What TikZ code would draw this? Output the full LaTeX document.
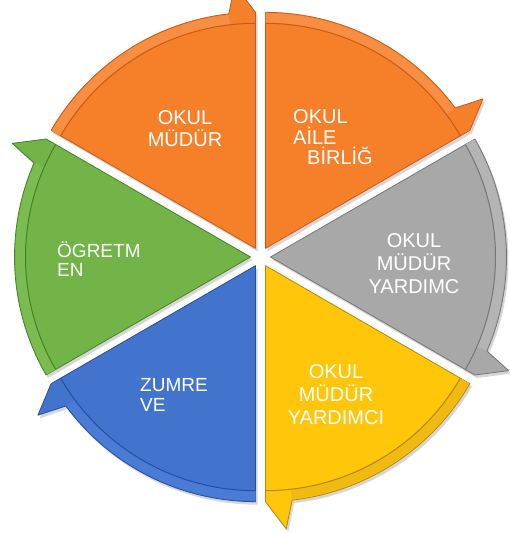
\documentclass[tikz,border=0pt]{standalone}
\usepackage{fontspec}
\setmainfont{Liberation Sans}
\usetikzlibrary{positioning}
\definecolor{orangeseg}{RGB}{246,128,42}
\definecolor{orangerim}{RGB}{248,142,66}
\definecolor{orangeedge}{RGB}{196,92,22}
\definecolor{greyseg}{RGB}{168,168,168}
\definecolor{greyrim}{RGB}{180,180,180}
\definecolor{greyedge}{RGB}{118,118,118}
\definecolor{yellowseg}{RGB}{255,198,10}
\definecolor{yellowrim}{RGB}{240,186,18}
\definecolor{yellowedge}{RGB}{180,135,10}
\definecolor{blueseg}{RGB}{66,116,206}
\definecolor{bluerim}{RGB}{74,124,214}
\definecolor{blueedge}{RGB}{38,78,158}
\definecolor{greenseg}{RGB}{114,180,72}
\definecolor{greenrim}{RGB}{122,188,80}
\definecolor{greenedge}{RGB}{70,128,40}
\begin{document}
\begin{tikzpicture}[x=1pt,y=1pt,
  seg/.style={line width=0.8pt, line join=round},
  rimline/.style={line width=1pt},
  shadowseg/.style={fill=black, opacity=0.16},
  lbl/.style={text=white, inner sep=0pt, font=\fontsize{20}{22}\selectfont},
  lblsmall/.style={text=white, inner sep=0pt, font=\fontsize{19}{19.5}\selectfont}]
\useasboundingbox (-260.5,-277) rectangle (248.5,257);

% okul mudur, top left
\begin{scope}[shift={(120:10)}]
\fill[shadowseg, shift={(2,-3)}] (0,0) -- (90:236) -- (94.5:264) -- (96.5:236) arc[start angle=96.5,end angle=150,radius=236] -- cycle;
\filldraw[seg, fill=orangeseg, draw=orangeedge] (0,0) -- (90:236) -- (94.5:264) -- (96.5:236) arc[start angle=96.5,end angle=150,radius=236] -- cycle;
\fill[orangerim] (96.5:225) arc[start angle=96.5,end angle=150,radius=225] -- (150:235) arc[start angle=150,end angle=96.5,radius=235] -- cycle;
\draw[rimline, orangeedge] (90:225) arc[start angle=90,end angle=150,radius=225];
\end{scope}

% okul aile birligi, top right
\begin{scope}[shift={(60:10)}]
\fill[shadowseg, shift={(2,-3)}] (0,0) -- (30:236) -- (34.5:264) -- (36.5:236) arc[start angle=36.5,end angle=90,radius=236] -- cycle;
\filldraw[seg, fill=orangeseg, draw=orangeedge] (0,0) -- (30:236) -- (34.5:264) -- (36.5:236) arc[start angle=36.5,end angle=90,radius=236] -- cycle;
\fill[orangerim] (36.5:225) arc[start angle=36.5,end angle=90,radius=225] -- (90:235) arc[start angle=90,end angle=36.5,radius=235] -- cycle;
\draw[rimline, orangeedge] (30:225) arc[start angle=30,end angle=90,radius=225];
\end{scope}

% mudur yardimcisi, right
\begin{scope}[shift={(0:10)}]
\fill[shadowseg, shift={(2,-3)}] (0,0) -- (-30:236) -- (-25.5:264) -- (-23.5:236) arc[start angle=-23.5,end angle=30,radius=236] -- cycle;
\filldraw[seg, fill=greyseg, draw=greyedge] (0,0) -- (-30:236) -- (-25.5:264) -- (-23.5:236) arc[start angle=-23.5,end angle=30,radius=236] -- cycle;
\fill[greyrim] (-23.5:225) arc[start angle=-23.5,end angle=30,radius=225] -- (30:235) arc[start angle=30,end angle=-23.5,radius=235] -- cycle;
\draw[rimline, greyedge] (-30:225) arc[start angle=-30,end angle=30,radius=225];
\end{scope}

% mudur yardimcisi, bottom right
\begin{scope}[shift={(-60:10)}]
\fill[shadowseg, shift={(2,-3)}] (0,0) -- (-90:236) -- (-85.5:264) -- (-83.5:236) arc[start angle=-83.5,end angle=-30,radius=236] -- cycle;
\filldraw[seg, fill=yellowseg, draw=yellowedge] (0,0) -- (-90:236) -- (-85.5:264) -- (-83.5:236) arc[start angle=-83.5,end angle=-30,radius=236] -- cycle;
\fill[yellowrim] (-83.5:225) arc[start angle=-83.5,end angle=-30,radius=225] -- (-30:235) arc[start angle=-30,end angle=-83.5,radius=235] -- cycle;
\draw[rimline, yellowedge] (-90:225) arc[start angle=-90,end angle=-30,radius=225];
\end{scope}

% zumre, bottom left
\begin{scope}[shift={(-120:10)}]
\fill[shadowseg, shift={(2,-3)}] (0,0) -- (-150:236) -- (-145.5:264) -- (-143.5:236) arc[start angle=-143.5,end angle=-90,radius=236] -- cycle;
\filldraw[seg, fill=blueseg, draw=blueedge] (0,0) -- (-150:236) -- (-145.5:264) -- (-143.5:236) arc[start angle=-143.5,end angle=-90,radius=236] -- cycle;
\fill[bluerim] (-143.5:225) arc[start angle=-143.5,end angle=-90,radius=225] -- (-90:235) arc[start angle=-90,end angle=-143.5,radius=235] -- cycle;
\draw[rimline, blueedge] (-150:225) arc[start angle=-150,end angle=-90,radius=225];
\end{scope}

% ogretmenler, left
\begin{scope}[shift={(180:10)}]
\fill[shadowseg, shift={(2,-3)}] (0,0) -- (150:236) -- (154.5:264) -- (156.5:236) arc[start angle=156.5,end angle=210,radius=236] -- cycle;
\filldraw[seg, fill=greenseg, draw=greenedge] (0,0) -- (150:236) -- (154.5:264) -- (156.5:236) arc[start angle=156.5,end angle=210,radius=236] -- cycle;
\fill[greenrim] (156.5:225) arc[start angle=156.5,end angle=210,radius=225] -- (210:235) arc[start angle=210,end angle=156.5,radius=235] -- cycle;
\draw[rimline, greenedge] (150:225) arc[start angle=150,end angle=210,radius=225];
\end{scope}

% labels
\node[lbl, align=center] (mudur) at (-75.5,128) {OKUL\\MÜDÜR};
\node[lbl, align=left, anchor=west, font=\fontsize{20}{20.5}\selectfont] (aile) at (32.5,119.5) {OKUL\\AİLE\\\hspace*{14pt}BİRLİĞ};
\node[lbl, align=center, font=\fontsize{20}{23}\selectfont] (yrd1) at (153.5,-7) {OKUL\\MÜDÜR\\YARDIMC};
\node[lbl, align=center, font=\fontsize{20}{23}\selectfont] (yrd2) at (75.5,-138) {OKUL\\MÜDÜR\\YARDIMCI};
\node[lblsmall, align=left, anchor=west] (zumre) at (-120.5,-138) {ZUMRE\\VE};
\node[lblsmall, align=left, anchor=west] (ogretmen) at (-203.5,-2) {ÖGRETM\\EN};
\end{tikzpicture}
\end{document}
